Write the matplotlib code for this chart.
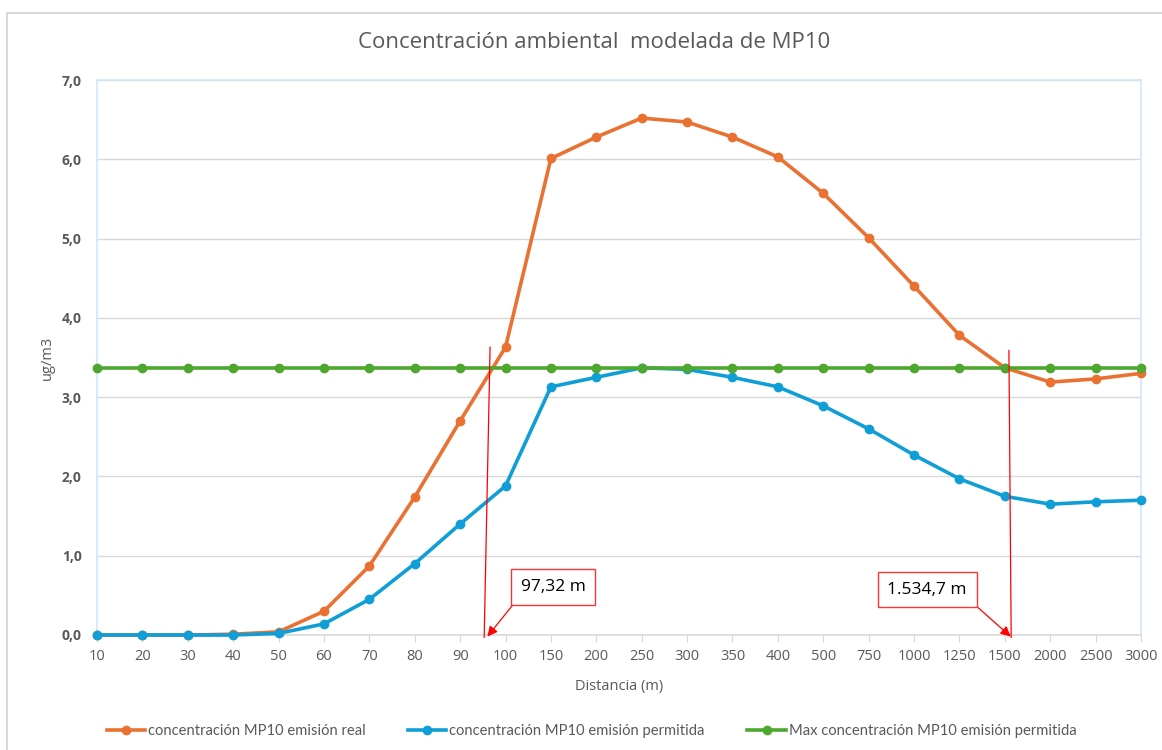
import matplotlib
matplotlib.use("Agg")
import matplotlib.pyplot as plt
from matplotlib.patches import Rectangle
import numpy as np

categories = ["10", "20", "30", "40", "50", "60", "70", "80", "90", "100",
              "150", "200", "250", "300", "350", "400", "500", "750", "1000",
              "1250", "1500", "2000", "2500", "3000"]
real = [0.0, 0.0, 0.0, 0.01, 0.04, 0.30, 0.87, 1.74, 2.70, 3.63,
        6.01, 6.28, 6.52, 6.47, 6.28, 6.03, 5.57, 5.01, 4.40,
        3.78, 3.37, 3.19, 3.23, 3.30]
permitida = [0.0, 0.0, 0.0, 0.0, 0.02, 0.14, 0.45, 0.90, 1.40, 1.88,
             3.13, 3.25, 3.37, 3.35, 3.25, 3.13, 2.89, 2.60, 2.27,
             1.97, 1.75, 1.65, 1.68, 1.70]
max_perm = [3.37] * 24
yticks = [0, 1, 2, 3, 4, 5, 6, 7]
ytick_labels = ["0,0", "1,0", "2,0", "3,0", "4,0", "5,0", "6,0", "7,0"]
labels = ["concentración MP10 emisión real",
          "concentración MP10 emisión permitida",
          "Max concentración MP10 emisión permitida"]
ann1_text = "97,32 m"
ann2_text = "1.534,7 m"

plt.rcParams['font.family'] = ['Open Sans', 'DejaVu Sans']

W, H = 1162, 750
fig = plt.figure(figsize=(W / 100, H / 100), dpi=100)
fig.patches.append(Rectangle((7 / W, -0.01), 1.1, 1 - 13 / H + 0.01, transform=fig.transFigure,
                             fill=False, edgecolor="#d9d9d9", linewidth=1.5))
ax = fig.add_axes([97 / W, 1 - 635 / H, (1141 - 97) / W, (635 - 80) / H])

x = np.arange(len(categories))
c_or, c_bl, c_gr = "#E97132", "#0F9ED5", "#4EA72E"
lw, ms = 2.6, 6
ax.plot(x, real, color=c_or, lw=lw, marker="o", ms=ms, label=labels[0], zorder=3, clip_on=False)
ax.plot(x, permitida, color=c_bl, lw=lw, marker="o", ms=ms, label=labels[1], zorder=3, clip_on=False)
ax.plot(x, max_perm, color=c_gr, lw=lw, marker="o", ms=ms, label=labels[2], zorder=4, clip_on=False)

ax.set_xlim(0, len(categories) - 1)
ax.set_ylim(0, 7)
ax.set_yticks(yticks)
ax.set_yticklabels(ytick_labels)
ax.set_xticks(x)
ax.set_xticklabels(categories)
ax.grid(axis="y", color="#d9d9d9", lw=1)
ax.set_axisbelow(True)
for s in ["left", "right", "top"]:
    ax.spines[s].set_color("#d0e8f7")
    ax.spines[s].set_linewidth(1.2)
ax.spines["bottom"].set_color("#d9d9d9")
ax.spines["bottom"].set_linewidth(1.2)
ax.tick_params(axis="y", length=0, pad=11, labelsize=10, labelcolor="#595959")
ax.tick_params(axis="x", length=5, color="#d9d9d9", pad=5, labelsize=10.5, labelcolor="#595959")
for t in ax.get_yticklabels():
    t.set_fontweight("bold")

ax.set_xlabel("Distancia (m)", fontsize=10.5, color="#595959", labelpad=11)
ax.set_ylabel("ug/m3", fontsize=10.5, color="#595959", labelpad=5)
fig.text(0.511, 1 - 43 / H, "Concentración ambiental  modelada de MP10", ha="center",
         va="center", fontsize=16, color="#595959")

# annotations
ax.plot([8.66, 8.53], [3.63, -0.03], color="red", lw=0.9, clip_on=False, zorder=5)
ax.plot([20.09, 20.14], [3.59, -0.03], color="red", lw=0.9, clip_on=False, zorder=5)

ax.annotate(ann1_text, xy=(8.6, -0.02), xytext=(10.05, 0.605),
            fontsize=12.5, color="black", ha="center", va="center", annotation_clip=False,
            bbox=dict(boxstyle="square,pad=0.55", fc="white", ec="#ff3333", lw=1),
            arrowprops=dict(arrowstyle="-|>", color="red", lw=0.9, mutation_scale=15,
                            relpos=(0, 0), shrinkA=0, shrinkB=0), zorder=6)
ax.annotate(ann2_text, xy=(20.13, -0.02), xytext=(18.29, 0.57),
            fontsize=12.5, color="black", ha="center", va="center", annotation_clip=False,
            bbox=dict(boxstyle="square,pad=0.55", fc="white", ec="#ff3333", lw=1),
            arrowprops=dict(arrowstyle="-|>", color="red", lw=0.9, mutation_scale=15,
                            relpos=(1, 0), shrinkA=0, shrinkB=0), zorder=6)

leg = fig.legend(loc="center", bbox_to_anchor=(0.509, 1 - 731 / H), ncol=3, frameon=False,
                 prop={"family": ["Lato", "DejaVu Sans"], "size": 10.6},
                 handlelength=2.6, handletextpad=0.2, columnspacing=2.9,
                 labelcolor="#595959")

fig.savefig("out.png", dpi=100, facecolor="white")
